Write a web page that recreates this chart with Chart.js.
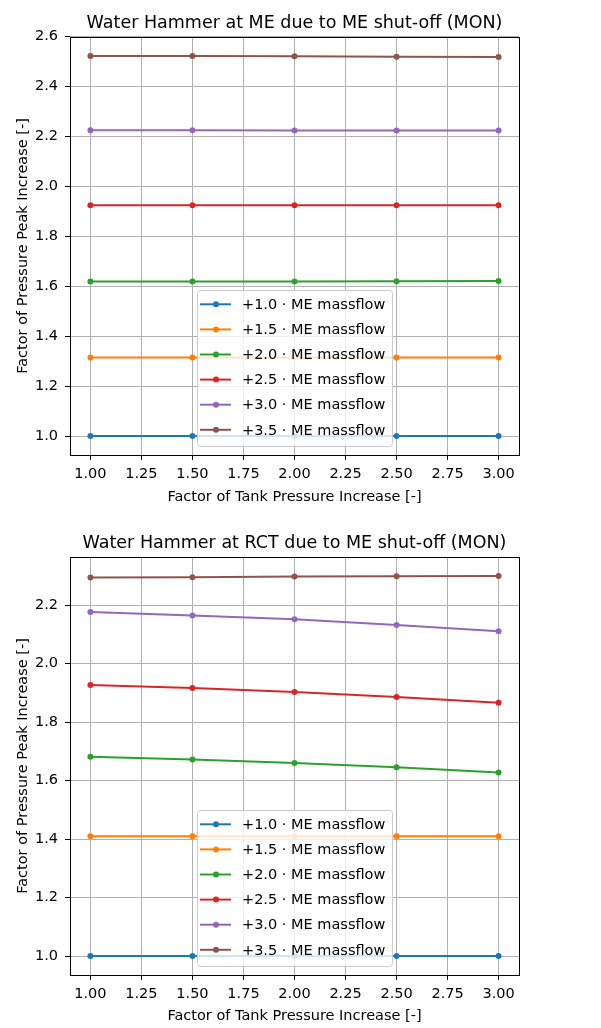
<!DOCTYPE html>
<html>
<head>
<meta charset="utf-8">
<script src="https://cdn.jsdelivr.net/npm/chart.js@4"></script>
<style>
  body { margin: 0; background: #fff; }
  #wrap { position: relative; width: 601px; height: 1028px; }
  canvas { position: absolute; left: 0; }
</style>
</head>
<body>
<div id="wrap">
  <canvas id="meChart" width="601" height="510" style="top:0"></canvas>
  <canvas id="rctChart" width="601" height="518" style="top:510px"></canvas>
</div>
<script>
// x values: factor of tank pressure increase
const tankFactor = [1.0, 1.5, 2.0, 2.5, 3.0];
const massflowLabels = ['+1.0 · ME massflow', '+1.5 · ME massflow', '+2.0 · ME massflow',
                        '+2.5 · ME massflow', '+3.0 · ME massflow', '+3.5 · ME massflow'];
const lineColors = ['#1f77b4', '#ff7f0e', '#2ca02c', '#d62728', '#9467bd', '#8c564b'];

// water hammer at ME
const me10 = [1.000, 1.000, 1.000, 1.000, 1.000];
const me15 = [1.314, 1.314, 1.314, 1.314, 1.314];
const me20 = [1.619, 1.619, 1.619, 1.620, 1.621];
const me25 = [1.924, 1.924, 1.924, 1.924, 1.924];
const me30 = [2.225, 2.225, 2.224, 2.224, 2.224];
const me35 = [2.522, 2.522, 2.521, 2.519, 2.518];

// water hammer at RCT
const rct10 = [1.000, 1.000, 1.000, 1.000, 1.000];
const rct15 = [1.410, 1.410, 1.410, 1.410, 1.410];
const rct20 = [1.682, 1.672, 1.660, 1.646, 1.628];
const rct25 = [1.927, 1.917, 1.903, 1.886, 1.866];
const rct30 = [2.177, 2.165, 2.152, 2.132, 2.111];
const rct35 = [2.295, 2.296, 2.298, 2.299, 2.300];

const xTicks = [1.0, 1.25, 1.5, 1.75, 2.0, 2.25, 2.5, 2.75, 3.0];
const meYTicks = [1.0, 1.2, 1.4, 1.6, 1.8, 2.0, 2.2, 2.4, 2.6];
const rctYTicks = [1.0, 1.2, 1.4, 1.6, 1.8, 2.0, 2.2];

const FONT = "'DejaVu Sans', sans-serif";
const FS = 14.5;

// title over the axes, spines and the legend inside the plot
const decorations = {
  id: 'decorations',
  afterDatasetsDraw(chart, args, opts) {
    const { ctx, chartArea: a } = chart;
    const boxW = 195, boxH = 156, rowH = 25.1;
    const x0 = (a.left + a.right) / 2 - boxW / 2;
    const y0 = a.bottom - 9 - boxH;
    ctx.save();
    ctx.beginPath();
    ctx.roundRect(x0 + 0.5, y0 + 0.5, boxW, boxH, 3);
    ctx.fillStyle = 'rgba(255,255,255,0.8)';
    ctx.fill();
    ctx.strokeStyle = '#cccccc';
    ctx.lineWidth = 1;
    ctx.stroke();
    ctx.font = FS + 'px ' + FONT;
    ctx.textBaseline = 'middle';
    ctx.textAlign = 'left';
    chart.data.datasets.forEach((ds, i) => {
      const y = y0 + 14.3 + i * rowH;
      ctx.strokeStyle = ds.borderColor;
      ctx.lineWidth = 2;
      ctx.beginPath();
      ctx.moveTo(x0 + 3, y);
      ctx.lineTo(x0 + 34, y);
      ctx.stroke();
      ctx.fillStyle = ds.borderColor;
      ctx.beginPath();
      ctx.arc(x0 + 19, y, 3, 0, Math.PI * 2);
      ctx.fill();
      ctx.fillStyle = '#000';
      ctx.fillText(ds.label, x0 + 45, y + 1);
    });
    ctx.restore();
  },
  afterDraw(chart, args, opts) {
    const { ctx, chartArea: a } = chart;
    ctx.save();
    ctx.strokeStyle = '#000';
    ctx.lineWidth = 1;
    ctx.strokeRect(Math.round(a.left) + 0.5, Math.round(a.top) + 0.5,
                   Math.round(a.right - a.left), Math.round(a.bottom - a.top));
    ctx.fillStyle = '#000';
    ctx.font = '17.5px ' + FONT;
    ctx.textAlign = 'center';
    ctx.textBaseline = 'alphabetic';
    ctx.fillText(opts.text, (a.left + a.right) / 2, a.top - 9.5);
    ctx.restore();
  }
};

function makeChart(id, title, series, yMin, yMax, yTicks, padTop, xHeight, xTitlePad) {
  const datasets = series.map((vals, i) => ({
    label: massflowLabels[i],
    data: tankFactor.map((x, j) => ({ x: x, y: vals[j] })),
    borderColor: lineColors[i],
    backgroundColor: lineColors[i],
    borderWidth: 2,
    pointRadius: 3,
    pointBorderWidth: 0,
    pointBackgroundColor: lineColors[i],
    tension: 0
  }));
  return new Chart(document.getElementById(id), {
    type: 'line',
    data: { datasets: datasets },
    options: {
      responsive: false,
      animation: false,
      layout: { padding: { left: 0, right: 82, top: padTop, bottom: 0 } },
      plugins: {
        legend: { display: false },
        tooltip: { enabled: false },
        decorations: { text: title }
      },
      scales: {
        x: {
          type: 'linear',
          min: 0.9, max: 3.1,
          afterBuildTicks: s => { s.ticks = xTicks.map(v => ({ value: v })); },
          afterFit: s => { s.height = xHeight; },
          grid: { color: '#b0b0b0', lineWidth: 1, tickColor: '#000', tickLength: 5 },
          border: { display: false },
          ticks: {
            color: '#000', padding: 6, maxRotation: 0,
            font: { family: FONT, size: FS },
            callback: v => v.toFixed(2)
          },
          title: {
            display: true, text: 'Factor of Tank Pressure Increase [-]', color: '#000',
            font: { family: FONT, size: FS, lineHeight: 1.2 },
            padding: { top: 0, bottom: xTitlePad }
          }
        },
        y: {
          type: 'linear',
          min: yMin, max: yMax,
          afterBuildTicks: s => { s.ticks = yTicks.map(v => ({ value: v })); },
          afterFit: s => { s.width = 70; },
          grid: { color: '#b0b0b0', lineWidth: 1, tickColor: '#000', tickLength: 5 },
          border: { display: false },
          ticks: {
            color: '#000', padding: 7,
            font: { family: FONT, size: FS },
            callback: v => v.toFixed(1)
          },
          title: {
            display: true, text: 'Factor of Pressure Peak Increase [-]', color: '#000',
            font: { family: FONT, size: FS, lineHeight: 1.2 },
            padding: { top: 14.5, bottom: 0 }
          }
        }
      }
    },
    plugins: [decorations]
  });
}

makeChart('meChart', 'Water Hammer at ME due to ME shut-off (MON)',
  [me10, me15, me20, me25, me30, me35], 0.924, 2.598, meYTicks, 37, 55, 4.2);
makeChart('rctChart', 'Water Hammer at RCT due to ME shut-off (MON)',
  [rct10, rct15, rct20, rct25, rct30, rct35], 0.935, 2.365, rctYTicks, 47, 53, 3.0);
</script>
</body>
</html>
